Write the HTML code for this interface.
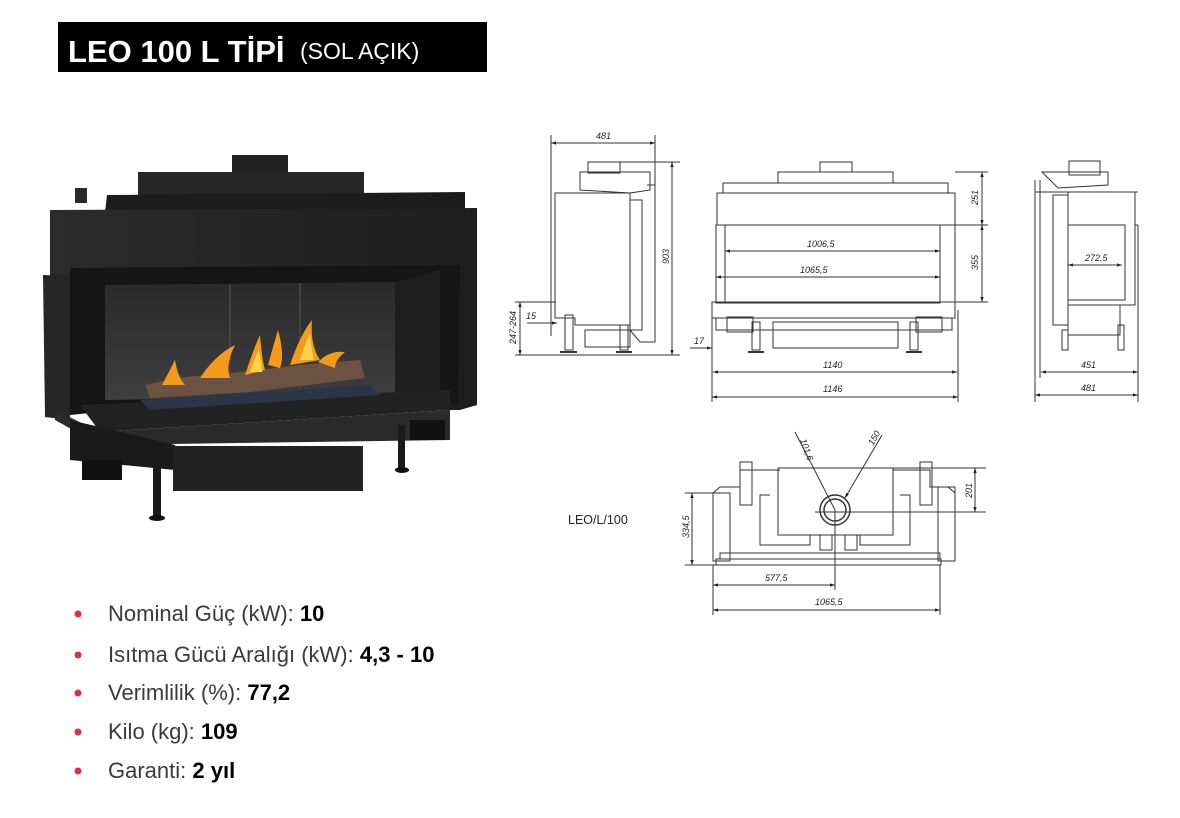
<!DOCTYPE html>
<html><head><meta charset="utf-8"><style>
body{margin:0;background:#fff;width:1180px;height:818px;overflow:hidden;font-family:"Liberation Sans",sans-serif}
svg{position:absolute;left:0;top:0}
.t{font-family:"Liberation Sans",sans-serif;font-style:italic;font-size:9px;fill:#222}
</style></head><body>
<svg width="1180" height="818" viewBox="0 0 1180 818">
<defs>
<linearGradient id="wall" x1="0" y1="0" x2="0" y2="1"><stop offset="0" stop-color="#2a2a2a"/><stop offset="1" stop-color="#3e3e3e"/></linearGradient>
<linearGradient id="body" x1="0" y1="0" x2="1" y2="0"><stop offset="0" stop-color="#2b2b2b"/><stop offset="1" stop-color="#1e1e1e"/></linearGradient>
<marker id="a" viewBox="0 0 6 6" refX="6" refY="3" markerWidth="5" markerHeight="5" orient="auto-start-reverse"><path d="M0,1 L6,3 L0,5z" fill="#222"/></marker>
</defs>
<rect x="58" y="22" width="429" height="50" fill="#000"/>
<text x="68" y="62" fill="#fff" font-size="31" font-weight="bold" font-family="Liberation Sans, sans-serif">LEO 100 L TİPİ</text>
<text x="300" y="59" fill="#fff" font-size="23" font-family="Liberation Sans, sans-serif">(SOL AÇIK)</text>

<g>
<rect x="232" y="155" width="56" height="22" fill="#222"/>
<rect x="138" y="172" width="226" height="29" fill="#262626"/>
<polygon points="107,195 465,192 465,210 105,212" fill="#1c1c1c"/>
<rect x="75" y="188" width="12" height="15" fill="#2a2a2a"/>
<polygon points="50,210 477,208 477,405 460,410 60,412 50,280" fill="url(#body)"/>
<polygon points="43,275 70,276 70,420 45,417" fill="#262626"/>
<polygon points="70,268 460,265 458,403 100,412 70,415" fill="#151515"/>
<polygon points="105,285 395,282 395,395 105,400" fill="url(#wall)"/>
<polygon points="395,282 440,270 440,393 395,395" fill="#1e1e1e"/>
<line x1="230" y1="285" x2="230" y2="400" stroke="#555" stroke-width="1"/>
<line x1="300" y1="283" x2="300" y2="398" stroke="#555" stroke-width="1"/>
<polygon points="80,405 450,390 450,410 100,432" fill="#222"/>
<polygon points="55,410 100,432 450,410 450,440 100,445 55,420" fill="#2a2a2a"/>
<polygon points="70,420 175,445 175,470 70,460" fill="#1a1a1a"/>
<rect x="173" y="446" width="190" height="45" fill="#222"/>
<rect x="410" y="420" width="35" height="20" fill="#111"/>
<rect x="82" y="460" width="40" height="20" fill="#111"/>
<rect x="153" y="462" width="8" height="55" fill="#1a1a1a"/>
<ellipse cx="157" cy="518" rx="8" ry="3" fill="#111"/>
<rect x="398" y="425" width="7" height="45" fill="#1a1a1a"/>
<ellipse cx="402" cy="470" rx="7" ry="3" fill="#111"/>
<polygon points="145,385 175,378 240,372 300,365 360,360 365,378 250,392 150,398" fill="#6b5242"/>
<polygon points="140,400 260,392 370,385 380,395 150,410" fill="#2a3548"/>
<g fill="#f59a1a">
<path d="M162,385 Q170,370 175,360 Q178,378 185,385z"/>
<path d="M200,378 Q215,355 235,345 Q225,365 230,378z"/>
<path d="M245,375 Q255,345 260,335 Q262,360 265,370z"/>
<path d="M268,365 Q275,340 278,330 Q285,355 280,368z"/>
<path d="M290,365 Q300,335 312,320 Q310,345 320,360z"/>
<path d="M318,362 Q330,350 345,352 Q335,360 335,368z"/>
</g>
<g fill="#ffd24a"><path d="M250,372 Q256,355 259,350 Q262,365 262,372z"/><path d="M300,360 Q306,340 310,335 Q312,352 314,360z"/></g>
</g>

<g stroke="#333" stroke-width="1" fill="none">
<line x1="551" y1="135" x2="551" y2="336"/><line x1="655" y1="135" x2="655" y2="186"/>
<line x1="551" y1="143" x2="655" y2="143" marker-start="url(#a)" marker-end="url(#a)"/>
<rect x="588" y="162" width="32" height="11"/><line x1="620" y1="162" x2="680" y2="162"/>
<polygon points="580,172 650,172 650,190 630,193 580,190"/>
<polygon points="555,193 630,193 630,325 575,325 575,318 555,318"/>
<rect x="630" y="200" width="12" height="130"/>
<polyline points="647,185 655,185 655,342 640,342 630,330"/>
<rect x="585" y="330" width="45" height="17"/>
<rect x="565" y="315" width="8" height="35"/><rect x="620" y="325" width="8" height="25"/>
<line x1="560" y1="352" x2="577" y2="352" stroke-width="2"/><line x1="616" y1="352" x2="632" y2="352" stroke-width="2"/>
<line x1="672" y1="162" x2="672" y2="355" marker-start="url(#a)" marker-end="url(#a)"/>
<line x1="515" y1="355" x2="680" y2="355"/>
<line x1="515" y1="302" x2="556" y2="302"/>
<line x1="520" y1="302" x2="520" y2="355" marker-start="url(#a)" marker-end="url(#a)"/>
<line x1="527" y1="323" x2="557" y2="323" marker-end="url(#a)"/>
<rect x="820" y="162" width="32" height="10"/>
<rect x="778" y="172" width="115" height="11"/>
<rect x="723" y="183" width="225" height="10"/>
<rect x="717" y="193" width="238" height="32"/>
<rect x="716" y="225" width="9" height="78"/>
<rect x="725" y="225" width="215" height="78"/>
<line x1="940" y1="225" x2="955" y2="225"/><line x1="955" y1="225" x2="955" y2="302"/>
<line x1="725" y1="251" x2="940" y2="251" marker-start="url(#a)" marker-end="url(#a)"/>
<line x1="716" y1="277" x2="940" y2="277" marker-start="url(#a)" marker-end="url(#a)"/>
<rect x="712" y="302" width="243" height="16"/>
<rect x="716" y="318" width="236" height="12"/>
<rect x="727" y="317" width="26" height="15"/><rect x="916" y="317" width="26" height="15"/>
<rect x="773" y="322" width="125" height="26"/>
<rect x="752" y="322" width="8" height="28"/><rect x="910" y="322" width="8" height="28"/>
<line x1="748" y1="352" x2="764" y2="352" stroke-width="2"/><line x1="906" y1="352" x2="922" y2="352" stroke-width="2"/>
<line x1="690" y1="348" x2="712" y2="348" marker-end="url(#a)"/>
<line x1="955" y1="172" x2="988" y2="172"/><line x1="955" y1="225" x2="988" y2="225"/><line x1="955" y1="302" x2="988" y2="302"/>
<line x1="982" y1="172" x2="982" y2="225" marker-start="url(#a)" marker-end="url(#a)"/>
<line x1="982" y1="225" x2="982" y2="302" marker-start="url(#a)" marker-end="url(#a)"/>
<line x1="712" y1="302" x2="712" y2="402"/><line x1="958" y1="310" x2="958" y2="402"/>
<line x1="713" y1="372" x2="957" y2="372" marker-start="url(#a)" marker-end="url(#a)"/>
<line x1="712" y1="397" x2="958" y2="397" marker-start="url(#a)" marker-end="url(#a)"/>
<rect x="1069" y="161" width="31" height="14"/>
<polygon points="1042,172 1108,172 1108,185 1058,188"/>
<line x1="1035" y1="192" x2="1138" y2="192"/>
<rect x="1053" y="195" width="15" height="130"/>
<rect x="1068" y="192" width="67" height="113"/>
<rect x="1068" y="225" width="57" height="75"/>
<line x1="1135" y1="225" x2="1138" y2="225"/><line x1="1138" y1="225" x2="1138" y2="305"/>
<line x1="1068" y1="265" x2="1122" y2="265" marker-start="url(#a)" marker-end="url(#a)"/>
<rect x="1068" y="305" width="52" height="30"/>
<rect x="1062" y="330" width="6" height="20"/><rect x="1118" y="325" width="6" height="25"/>
<line x1="1040" y1="180" x2="1040" y2="378"/><line x1="1035" y1="180" x2="1035" y2="402"/><line x1="1138" y1="305" x2="1138" y2="402"/>
<line x1="1041" y1="372" x2="1138" y2="372" marker-start="url(#a)" marker-end="url(#a)"/>
<line x1="1035" y1="395" x2="1138" y2="395" marker-start="url(#a)" marker-end="url(#a)"/>
<rect x="778" y="468" width="115" height="67"/>
<polyline points="713,493 720,487 740,487 740,470 780,470"/>
<polyline points="955,493 948,487 930,487 930,470 893,470"/>
<rect x="740" y="462" width="12" height="43"/><rect x="920" y="462" width="12" height="43"/>
<rect x="713" y="493" width="17" height="68"/><rect x="938" y="487" width="17" height="74"/>
<polyline points="770,495 760,495 760,545 810,545 810,535"/>
<polyline points="900,495 910,495 910,545 860,545 860,535"/>
<rect x="820" y="535" width="12" height="15"/><rect x="845" y="535" width="12" height="15"/>
<rect x="720" y="553" width="220" height="6"/>
<rect x="716" y="559" width="225" height="6"/>
<circle cx="835" cy="510" r="15" stroke-width="1.5"/><circle cx="835" cy="510" r="11" stroke-width="1.5"/>
<line x1="795" y1="432" x2="835" y2="510"/><line x1="882" y1="435" x2="845" y2="498" marker-end="url(#a)"/>
<line x1="893" y1="468" x2="986" y2="468"/><line x1="815" y1="512" x2="986" y2="512"/>
<line x1="975" y1="468" x2="975" y2="512" marker-start="url(#a)" marker-end="url(#a)"/>
<line x1="685" y1="493" x2="713" y2="493"/><line x1="685" y1="565" x2="716" y2="565"/>
<line x1="692" y1="493" x2="692" y2="565" marker-start="url(#a)" marker-end="url(#a)"/>
<line x1="713" y1="565" x2="713" y2="615"/><line x1="940" y1="565" x2="940" y2="615"/>
<line x1="835" y1="510" x2="835" y2="590"/>
<line x1="713" y1="585" x2="835" y2="585" marker-start="url(#a)" marker-end="url(#a)"/>
<line x1="713" y1="610" x2="940" y2="610" marker-start="url(#a)" marker-end="url(#a)"/>
</g>
<g class="t">
<text x="596" y="139" class="t">481</text>
<text x="526" y="319" class="t">15</text>
<text x="0" y="0" class="t" transform="translate(669,264) rotate(-90)">903</text>
<text x="0" y="0" class="t" transform="translate(516,344) rotate(-90)">247-264</text>
<text x="807" y="247" class="t">1006,5</text>
<text x="800" y="273" class="t">1065,5</text>
<text x="694" y="344" class="t">17</text>
<text x="0" y="0" class="t" transform="translate(978,205) rotate(-90)">251</text>
<text x="0" y="0" class="t" transform="translate(978,270) rotate(-90)">355</text>
<text x="823" y="368" class="t">1140</text>
<text x="823" y="392" class="t">1146</text>
<text x="1085" y="261" class="t">272,5</text>
<text x="1081" y="368" class="t">451</text>
<text x="1081" y="391" class="t">481</text>
<text x="0" y="0" class="t" transform="translate(800,440) rotate(70)">101,6</text>
<text x="0" y="0" class="t" transform="translate(873,446) rotate(-60)">150</text>
<text x="0" y="0" class="t" transform="translate(972,498) rotate(-90)">201</text>
<text x="0" y="0" class="t" transform="translate(689,538) rotate(-90)">334,5</text>
<text x="765" y="581" class="t">577,5</text>
<text x="815" y="605" class="t">1065,5</text>
</g>
<text x="568" y="524" font-size="12.5" fill="#222" font-family="Liberation Sans, sans-serif">LEO/L/100</text>

<g font-family="Liberation Sans, sans-serif" font-size="22" fill="#3a3a3a">
<circle cx="78" cy="614" r="3.5" fill="#e0303a"/><text x="108" y="621">Nominal Güç (kW): <tspan font-weight="bold" fill="#000">10</tspan></text>
<circle cx="78" cy="655" r="3.5" fill="#e0303a"/><text x="108" y="662">Isıtma Gücü Aralığı (kW): <tspan font-weight="bold" fill="#000">4,3 - 10</tspan></text>
<circle cx="78" cy="693" r="3.5" fill="#e0303a"/><text x="108" y="700">Verimlilik (%): <tspan font-weight="bold" fill="#000">77,2</tspan></text>
<circle cx="78" cy="732" r="3.5" fill="#e0303a"/><text x="108" y="739">Kilo (kg): <tspan font-weight="bold" fill="#000">109</tspan></text>
<circle cx="78" cy="771" r="3.5" fill="#e0303a"/><text x="108" y="778">Garanti: <tspan font-weight="bold" fill="#000">2 yıl</tspan></text>
</g>
</svg>
</body></html>
